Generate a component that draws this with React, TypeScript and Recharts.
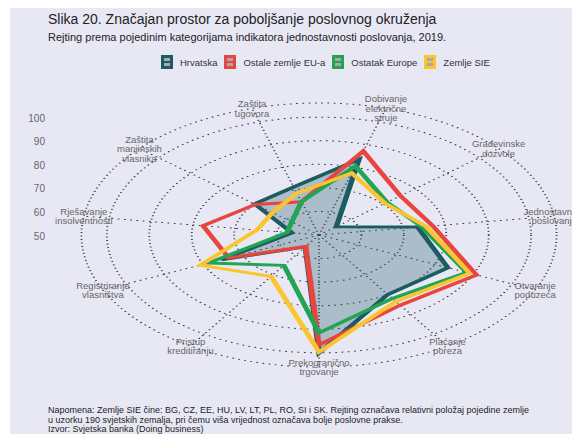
import React from 'react';
import { RadarChart, Radar, PolarGrid, PolarAngleAxis, PolarRadiusAxis } from 'recharts';

// categories (clockwise, first one just right of the top)
const categories = [
  'Dobivanje\nelektrične\nstruje',
  'Građevinske\ndozvole',
  'Jednostavnost\nposlovanja',
  'Otvaranje\npoduzeća',
  'Plaćanje\nporeza',
  'Prekogranično\ntrgovanje',
  'Pristup\nkreditiranju',
  'Registriranje\nvlasništva',
  'Rješavanje\ninsolventnosti',
  'Zaštita\nmanjinskih\nvlasnika',
  'Zaštita\nugovora',
];

const hrvatska = [83.5, 55.4, 73.5, 83.4, 80, 100, 56, 75.2, 56.4, 70.1, 71.2];
const ostaleEU = [87.1, 75.4, 77.1, 90.8, 85.4, 96.6, 55.8, 73.4, 77.6, 69.8, 64.7];
const ostatakEurope = [80.5, 71.2, 74.5, 88.2, 82, 91.5, 65.3, 78.7, 57.6, 58.5, 64.7];
const zemljeSIE = [77.4, 70.6, 75.5, 89, 83.5, 99.6, 70.9, 80.8, 64.8, 64.5, 68.5];

const radiusTicks = [50, 60, 70, 80, 90, 100];
const radiusMax = 106;

const series = [
  { key: 'hr', name: 'Hrvatska', color: '#1d5b62' },
  { key: 'eu', name: 'Ostale zemlje EU-a', color: '#e8453f' },
  { key: 'eur', name: 'Ostatak Europe', color: '#23a455' },
  { key: 'sie', name: 'Zemlje SIE', color: '#fbc531' },
];

const data = categories.map((name, i) => ({
  name,
  hr: hrvatska[i],
  eu: ostaleEU[i],
  eur: ostatakEurope[i],
  sie: zemljeSIE[i],
}));

// the polar area is stretched horizontally like in the original
const SX = 1.8;
const CX = 309;
const CY = 227;
const W = 572;
const H = 426;
const FONT = '"Liberation Sans", Arial, sans-serif';

const AngleTick = (p: any) => {
  const lines = String(p.payload.value).split('\n');
  const lh = 9.5;
  return (
    <g transform={`translate(${p.x},${p.y}) scale(${1 / SX},1)`}>
      <text textAnchor="middle" fontSize={9.5} fill="#666" fontFamily={FONT}>
        {lines.map((l, i) => (
          <tspan key={i} x={0} y={(i - (lines.length - 1) / 2) * lh} dominantBaseline="central">
            {l}
          </tspan>
        ))}
      </text>
    </g>
  );
};

const RadiusTick = (p: any) => {
  if (!radiusTicks.includes(p.payload.value)) return <g />;
  const x = CX + (35 - CX) / SX;
  return (
    <g transform={`translate(${x},${p.y + 1}) scale(${1 / SX},1)`}>
      <text textAnchor="end" dominantBaseline="central" fontSize={10} fill="#666" fontFamily={FONT}>
        {p.payload.value}
      </text>
    </g>
  );
};

const Swatch = ({ color }: { color: string }) => (
  <div style={{ position: 'relative', width: 12, height: 14, background: color }}>
    <div style={{ position: 'absolute', left: 3, top: 3, width: 6, height: 3, background: '#a9a9a9' }} />
    <div style={{ position: 'absolute', left: 3, top: 8, width: 6, height: 3, background: '#a9a9a9' }} />
  </div>
);

export default function App() {
  return (
    <div
      style={{
        position: 'relative',
        width: W,
        height: H,
        marginLeft: 2,
        background: '#e8e8f5',
        overflow: 'hidden',
        fontFamily: FONT,
      }}
    >
      <div style={{ position: 'absolute', left: 38, top: 3, fontSize: 14, color: '#222' }}>
        Slika 20. Značajan prostor za poboljšanje poslovnog okruženja
      </div>
      <div style={{ position: 'absolute', left: 38, top: 23, fontSize: 11, color: '#222' }}>
        Rejting prema pojedinim kategorijama indikatora jednostavnosti poslovanja, 2019.
      </div>
      <div style={{ position: 'absolute', left: 151, top: 47, display: 'flex', gap: 7, fontSize: 9.5, color: '#333' }}>
        {series.map((s) => (
          <div key={s.key} style={{ display: 'flex', alignItems: 'center', gap: 7 }}>
            <Swatch color={s.color} />
            <span>{s.name}</span>
          </div>
        ))}
      </div>

      <div
        style={{
          position: 'absolute',
          left: 0,
          top: 0,
          width: W,
          height: H,
          transform: `scaleX(${SX})`,
          transformOrigin: `${CX}px ${CY}px`,
        }}
      >
        <RadarChart
          width={W}
          height={H}
          cx={CX}
          cy={CY}
          outerRadius={132}
          data={data}
          startAngle={73.64}
          endAngle={-286.36}
          margin={{ top: 0, right: 0, bottom: 0, left: 0 }}
        >
          <PolarGrid gridType="circle" stroke="#3d3d4a" strokeDasharray="1 2.5" vectorEffect="non-scaling-stroke" />
          <PolarAngleAxis dataKey="name" tick={<AngleTick />} tickLine={false} axisLine={false} tickSize={0.001} />
          <PolarRadiusAxis
            angle={90}
            domain={[50, radiusMax]}
            ticks={[...radiusTicks, radiusMax]}
            tick={<RadiusTick />}
            axisLine={false}
            tickLine={false}
          />
          {series.map((s) => (
            <Radar
              key={s.key}
              dataKey={s.key}
              name={s.name}
              stroke={s.color}
              strokeWidth={3}
              fill={s.key === 'hr' ? s.color : 'none'}
              fillOpacity={s.key === 'hr' ? 0.3 : 0}
              dot={false}
              vectorEffect="non-scaling-stroke"
              isAnimationActive={false}
            />
          ))}
        </RadarChart>
      </div>

      <div style={{ position: 'absolute', left: 38, top: 398, fontSize: 9, lineHeight: '9.5px', color: '#222' }}>
        Napomena: Zemlje SIE čine: BG, CZ, EE, HU, LV, LT, PL, RO, SI i SK. Rejting označava relativni položaj pojedine zemlje
        <br />
        u uzorku 190 svjetskih zemalja, pri čemu viša vrijednost označava bolje poslovne prakse.
        <br />
        Izvor: Svjetska banka (Doing business)
      </div>
    </div>
  );
}
